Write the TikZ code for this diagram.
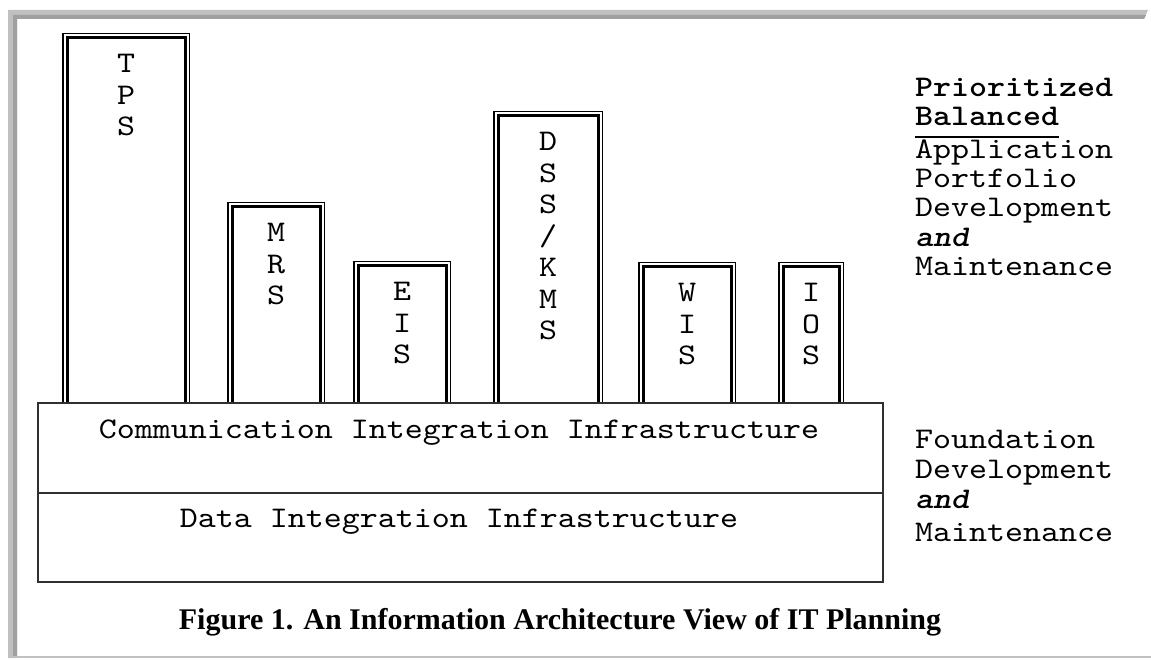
\documentclass[tikz,border=0pt]{standalone}
\usepackage{fontspec}
\newfontfamily\captionfont{Liberation Serif}
\newfontfamily\typefont{lmmono10-regular.otf}[FakeStretch=1.143,
    BoldFont=lmmonolt10-bold.otf, BoldItalicFont=lmmonolt10-boldoblique.otf]
\definecolor{framelight}{HTML}{C0C0C0}
\definecolor{framedark}{HTML}{A0A0A0}
\definecolor{boxline}{HTML}{303030}

\begin{document}
\begin{tikzpicture}[x=1pt, y=-1pt,
    mono/.style={font=\typefont\fontsize{30}{29}\selectfont, inner sep=0pt},
    sidetext/.style={mono, anchor=base west},
    barlabel/.style={mono, align=center, anchor=north,
        font=\typefont\fontsize{30}{31.5}\selectfont},
    barouter/.style={line width=1.5pt},
    barinner/.style={line width=3pt},
    layer/.style={draw=boxline, line width=1.5pt, minimum width=845pt,
        anchor=north west, inner sep=0pt}]
    \useasboundingbox (0,0) rectangle (1151,660);

    %Frame
    \fill[framelight] (8,10) -- (1148,10) -- (1144,19) -- (17,19) -- (17,658) -- (8,658) -- cycle;
    \fill[framedark] (13,15) -- (1146,15) -- (1144,19) -- (17,19) -- (17,656) -- (13,656) -- cycle;
    \draw[framelight, line width=2pt] (8,657) -- (1151,657);

    %Foundation layers
    \node[layer, minimum height=90pt] (comm) at (37,402) {};
    \node[layer, minimum height=89pt] (data) at (37,492) {};
    \node[mono, anchor=base] (commlabel) at (459,438) {Communication Integration Infrastructure};
    \node[mono, anchor=base] (datalabel) at (459,527) {Data Integration Infrastructure};

    %Application bars
    \foreach \xa/\xb/\ytop/\name/\txt in {62/190/33/tps/{T\\P\\S}, 227/325/202/mrs/{M\\R\\S},
        353/451/261/eis/{E\\I\\S}, 493/603/111/dss/{D\\S\\S\\/\\K\\M\\S},
        638/736/262/wis/{W\\I\\S}, 778/844/262/ios/{I\\O\\S}}
    {
        \draw[barouter] ({\xa+0.75},402) |- ({\xb-0.75},{\ytop+0.75}) -- ({\xb-0.75},402);
        \draw[barinner] ({\xa+5},402) |- ({\xb-5},{\ytop+5}) -- ({\xb-5},402);
        \node[barlabel] (\name) at ({(\xa+\xb)/2},{\ytop+21}) {\txt};
    }

    %Side notes
    \foreach \name/\y/\txt in {prio/97/{\bfseries Prioritized}, bal/126/{\bfseries Balanced},
        appl/159/Application, port/188/Portfolio, devapp/217/Development,
        andapp/247/{\bfseries\itshape and}, maintapp/276/Maintenance,
        found/448/Foundation, devfound/478/Development,
        andfound/508/{\bfseries\itshape and}, maintfound/541/Maintenance}
        \node[sidetext] (\name) at (915,\y) {\txt};
    \draw[line width=2.5pt] ([yshift=-11pt]bal.base west) -- ([yshift=-11pt]bal.base east);

    %Caption
    \node[anchor=base, inner sep=0pt, font=\captionfont\bfseries\fontsize{30}{30}\selectfont]
        (caption) at (560,629) {Figure 1. An Information Architecture View of IT Planning};
\end{tikzpicture}
\end{document}
